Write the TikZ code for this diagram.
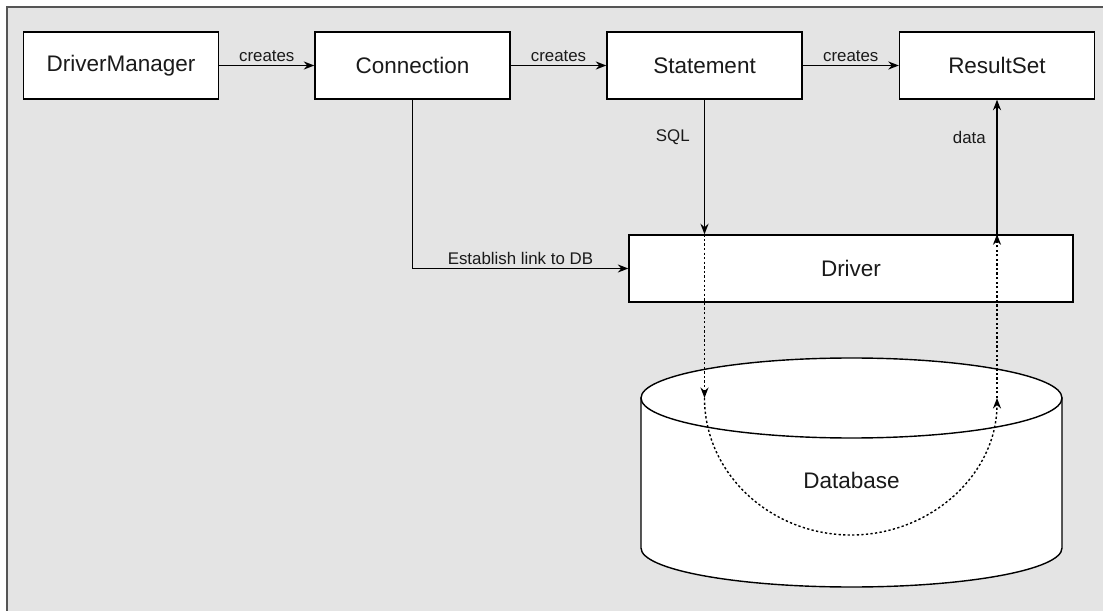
\documentclass[tikz,border=0pt]{standalone}
\usepackage{fontspec}
\setmainfont{Liberation Sans}
\usepackage{xcolor}
\usetikzlibrary{arrows.meta}
\definecolor{panelgray}{HTML}{E4E4E4}
\definecolor{framegray}{HTML}{555555}
\definecolor{inkgray}{HTML}{1A1A1A}

\begin{document}
\begin{tikzpicture}[x=0.02cm, y=-0.02cm, >={Stealth[length=6pt, width=4.6pt]},
  box/.style={draw, fill=white, line width=0.8pt, text=inkgray, inner sep=0pt, font=\fontsize{12.8}{15}\selectfont},
  cls/.style={box, minimum width=3.9cm, minimum height=1.34cm},
  lbl/.style={text=inkgray, inner sep=2pt, font=\fontsize{9.6}{11}\selectfont},
  link/.style={->, line width=0.8pt},
  flow/.style={->, line width=0.8pt, dash pattern=on 1.3pt off 1.3pt},
  cyl/.style={draw, fill=white, line width=0.8pt}]
  \useasboundingbox (0,0) rectangle (1103,611);
  \fill[panelgray] (7,7) rectangle (1103,611);
  \draw[framegray, line width=1.2pt] (7,611) -- (7,7) -- (1103,7);

  % classes of the API
  \node[cls] (dm) at (121,65.5) {DriverManager};
  \node[cls] (conn) at (412.5,65.5) {Connection};
  \node[cls] (st) at (704.5,65.5) {Statement};
  \node[cls] (rs) at (997,65.5) {ResultSet};
  \node[box, minimum width=8.88cm, minimum height=1.34cm] (drv) at (851,268.5) {Driver};

  % database cylinder
  \filldraw[cyl] (641,398) -- (641,548) arc[start angle=180, end angle=0, x radius=210.5, y radius=39] -- (1062,398) -- cycle;
  \filldraw[cyl] (851.5,398) ellipse[x radius=210.5, y radius=40];
  \node[box, draw=none, fill=none] (db) at (851.5,480) {Database};

  \draw[link] (dm) -- node[lbl, above] (cr1) {creates} (conn);
  \draw[link] (conn) -- node[lbl, above] (cr2) {creates} (st);
  \draw[link] (st) -- node[lbl, above] (cr3) {creates} (rs);
  \draw[link] (conn.south) |- node[lbl, above, pos=0.75] (est) {Establish link to DB} (drv.west);
  \draw[link] (st.south) -- node[lbl, left, pos=0.28, xshift=-6pt] (sql) {SQL} (st |- drv.north);
  \draw[link] (rs |- drv.north) -- node[lbl, left, pos=0.72, xshift=-4pt] (data) {data} (rs.south);

  % query path through the database
  \coordinate (dbin) at (704.5,398);
  \coordinate (dbout) at (997,398);
  \draw[flow] (st |- drv.north) -- (dbin);
  \draw[flow] (dbin) .. controls (704.5,474) and (771,535) .. (851,535) .. controls (931,535) and (997,474) .. (dbout);
  \draw[flow] (dbout) -- (rs |- drv.north);
\end{tikzpicture}
\end{document}
